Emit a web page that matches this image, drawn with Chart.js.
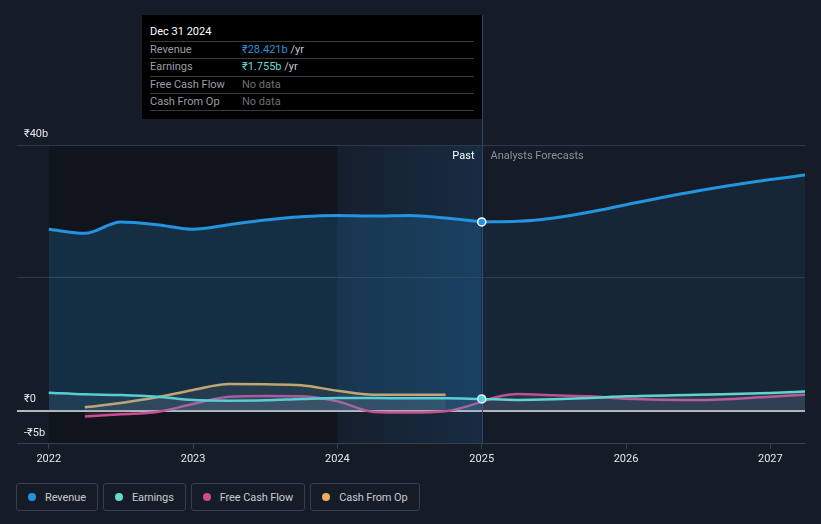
<!DOCTYPE html>
<html>
<head>
<meta charset="utf-8">
<script src="https://cdn.jsdelivr.net/npm/chart.js@4.4.1/dist/chart.umd.min.js"></script>
<style>
  body { margin: 0; background: #161c27; font-family: Roboto, sans-serif; }
  #wrap { position: relative; width: 821px; height: 524px; overflow: hidden; }
  #box { position: absolute; left: 0; top: 0; width: 821px; height: 470px; }
  #tip { position: absolute; left: 142px; top: 15px; width: 340px; height: 104px; background: #000; box-sizing: border-box; padding: 0 8px; font-size: 11px; }
  #tip .ttl { height: 26px; line-height: 33px; color: #fff; }
  #tip .row { height: 16.3px; line-height: 15.5px; border-top: 1px solid #3a3a3a; color: #9a9ea5; display: flex; }
  #tip .row:last-child { border-bottom: 1px solid #3a3a3a; }
  #tip .k { width: 92px; }
  #tip .nd { color: #6c7077; }
  #legend { position: absolute; left: 16px; top: 483px; display: flex; gap: 5px; }
  #legend div { height: 26px; border: 1px solid #3a404b; border-radius: 3px; padding: 0 11px 0 11px; display: flex; align-items: center; font-size: 11px; letter-spacing: -0.1px; color: #c6cad0; }
  #legend i { width: 8px; height: 8px; border-radius: 50%; margin-right: 9px; display: inline-block; }
</style>
</head>
<body>
<div id="wrap">
  <div id="box"><canvas id="myChart"></canvas></div>
  <div id="tip">
    <div class="ttl">Dec 31 2024</div>
    <div class="row"><span class="k">Revenue</span><span><span style="color:#2394df">₹28.421b</span> <span style="color:#c6cad0">/yr</span></span></div>
    <div class="row"><span class="k">Earnings</span><span><span style="color:#64dccd">₹1.755b</span> <span style="color:#c6cad0">/yr</span></span></div>
    <div class="row"><span class="k">Free Cash Flow</span><span class="nd">No data</span></div>
    <div class="row"><span class="k">Cash From Op</span><span class="nd">No data</span></div>
  </div>
  <div id="legend">
    <div><i style="background:#2394df"></i>Revenue</div>
    <div><i style="background:#64dccd"></i>Earnings</div>
    <div><i style="background:#cc4c8d"></i>Free Cash Flow</div>
    <div><i style="background:#e9ae5c"></i>Cash From Op</div>
  </div>
</div>
<script>
// values in ₹ billions, x in decimal years
const pastYears = [2022, 2022.25, 2022.5, 2022.75, 2023, 2023.25, 2023.5, 2023.75, 2024, 2024.25, 2024.5, 2024.75, 2025];
const forecastYears = [2025, 2025.25, 2025.5, 2025.75, 2026, 2026.5, 2027, 2027.25];

const revenuePast = [27.3, 26.7, 28.4, 28.0, 27.3, 28.0, 28.7, 29.2, 29.4, 29.3, 29.4, 29.0, 28.421];
const revenueForecast = [28.421, 28.5, 29.0, 29.9, 31.0, 33.1, 34.8, 35.5];

const earningsPast = [2.7, 2.45, 2.35, 2.1, 1.6, 1.5, 1.55, 1.75, 1.9, 1.9, 1.85, 1.85, 1.755];
const earningsForecast = [1.755, 1.6, 1.7, 1.9, 2.15, 2.4, 2.65, 2.87];

const fcfYears = [2022.25, 2022.5, 2022.75, 2023, 2023.25, 2023.5, 2023.75, 2024, 2024.25, 2024.5, 2024.75, 2025.25, 2025.5, 2025.75, 2026, 2026.5, 2027, 2027.25];
const fcfValues = [-0.9, -0.55, -0.2, 1.0, 2.1, 2.2, 2.15, 1.4, -0.2, -0.3, -0.1, 2.5, 2.3, 2.15, 1.8, 1.6, 2.1, 2.4];

const cfoYears = [2022.25, 2022.5, 2022.75, 2023, 2023.25, 2023.5, 2023.75, 2024, 2024.25, 2024.5, 2024.75];
const cfoValues = [0.5, 1.15, 2.0, 3.1, 4.0, 3.95, 3.8, 3.0, 2.4, 2.4, 2.4];

const xTickValues = [2022, 2023, 2024, 2025, 2026, 2027];
const yTickValues = [-5, 0, 20, 40];
const yTickLabels = ['-₹5b', '₹0', '', '₹40b'];

const nowYear = 2025;
const highlightStart = 2024;
const pastStart = 2022;

function pts(xs, ys) {
    return xs.map((x, i) => ({ x: x, y: ys[i] }));
}

const bgPlugin = {
    id: 'bg',
    beforeDraw(chart) {
        const { ctx, chartArea, scales } = chart;
        const x0 = scales.x.getPixelForValue(pastStart);
        const x1 = scales.x.getPixelForValue(highlightStart);
        const x2 = scales.x.getPixelForValue(nowYear);
        ctx.save();
        ctx.fillStyle = 'rgba(0,0,0,0.24)';
        ctx.fillRect(x0, chartArea.top, x1 - x0, chartArea.bottom - chartArea.top);
        const g = ctx.createLinearGradient(x1, 0, x2, 0);
        g.addColorStop(0, 'rgba(30,110,180,0.04)');
        g.addColorStop(1, 'rgba(30,110,180,0.20)');
        ctx.fillStyle = g;
        ctx.fillRect(x1, chartArea.top, x2 - x1, chartArea.bottom - chartArea.top);
        ctx.restore();
    },
    beforeDatasetsDraw(chart) {
        const { ctx, chartArea, scales } = chart;
        const x = Math.round(scales.x.getPixelForValue(nowYear)) + 0.5;
        ctx.save();
        ctx.strokeStyle = '#2a4862';
        ctx.lineWidth = 1;
        ctx.beginPath();
        ctx.moveTo(x, 15);
        ctx.lineTo(x, chartArea.bottom);
        ctx.stroke();
        ctx.font = '11px Roboto, sans-serif';
        ctx.textBaseline = 'middle';
        ctx.textAlign = 'right';
        ctx.fillStyle = '#ffffff';
        ctx.fillText('Past', x - 8, chartArea.top + 11);
        ctx.textAlign = 'left';
        ctx.fillStyle = '#8b9099';
        ctx.fillText('Analysts Forecasts', x + 8, chartArea.top + 11);
        ctx.restore();
    }
};

const dot = ctx => (ctx.raw && ctx.raw.x === nowYear ? 4 : 0);

new Chart(document.getElementById('myChart'), {
    type: 'line',
    data: {
        datasets: [
            {
                label: 'Revenue',
                data: pts(pastYears, revenuePast),
                borderColor: '#2394df',
                backgroundColor: 'rgba(35,148,223,0.2)',
                borderWidth: 3,
                fill: 'origin',
                pointRadius: dot,
                pointBackgroundColor: '#2394df',
                pointBorderColor: '#ffffff',
                pointBorderWidth: 1.5,
                cubicInterpolationMode: 'monotone'
            },
            {
                label: 'Revenue forecast',
                data: pts(forecastYears, revenueForecast),
                borderColor: '#2394df',
                backgroundColor: 'rgba(35,148,223,0.09)',
                borderWidth: 3,
                fill: 'origin',
                pointRadius: 0,
                cubicInterpolationMode: 'monotone'
            },
            {
                label: 'Earnings',
                data: pts(pastYears, earningsPast),
                borderColor: '#64dccd',
                backgroundColor: 'rgba(150,170,190,0.12)',
                borderWidth: 2.5,
                fill: 'origin',
                pointRadius: dot,
                pointBackgroundColor: '#64dccd',
                pointBorderColor: '#ffffff',
                pointBorderWidth: 1.5,
                cubicInterpolationMode: 'monotone'
            },
            {
                label: 'Earnings forecast',
                data: pts(forecastYears, earningsForecast),
                borderColor: '#64dccd',
                backgroundColor: 'rgba(150,170,190,0.12)',
                borderWidth: 2.5,
                fill: 'origin',
                pointRadius: 0,
                cubicInterpolationMode: 'monotone'
            },
            {
                label: 'Free Cash Flow',
                data: pts(fcfYears, fcfValues),
                borderColor: '#cc4c8d',
                backgroundColor: 'rgba(200,150,190,0.10)',
                borderWidth: 2.5,
                fill: 'origin',
                pointRadius: 0,
                cubicInterpolationMode: 'monotone'
            },
            {
                label: 'Cash From Op',
                data: pts(cfoYears, cfoValues),
                borderColor: '#eaab55',
                backgroundColor: 'rgba(200,160,120,0.12)',
                borderWidth: 2.5,
                fill: 'origin',
                pointRadius: 0,
                cubicInterpolationMode: 'monotone'
            }
        ]
    },
    options: {
        responsive: true,
        maintainAspectRatio: false,
        animation: false,
        layout: { padding: { left: 17, right: 16, top: 145, bottom: 0 } },
        plugins: { legend: { display: false }, tooltip: { enabled: false } },
        scales: {
            x: {
                type: 'linear',
                min: 2021.78,
                max: 2027.24,
                afterBuildTicks: axis => { axis.ticks = xTickValues.map(v => ({ value: v })); },
                ticks: {
                    color: '#e4e6ea',
                    font: { family: 'Roboto', size: 11 },
                    maxRotation: 0,
                    padding: 4,
                    callback: v => String(v)
                },
                grid: { drawOnChartArea: false, tickLength: 5, color: '#3a404c' },
                border: { color: '#3a404c' }
            },
            y: {
                min: -5,
                max: 40,
                afterFit: axis => { axis.width = 0; },
                afterBuildTicks: axis => { axis.ticks = yTickValues.map(v => ({ value: v })); },
                ticks: {
                    mirror: true,
                    padding: 7,
                    labelOffset: -11,
                    color: '#e4e6ea',
                    font: { family: 'Roboto', size: 11 },
                    callback: (v, i) => yTickLabels[i]
                },
                grid: {
                    drawTicks: false,
                    color: c => (c.tick.value === 0 ? '#b4b8be' : (c.tick.value === -5 ? 'rgba(0,0,0,0)' : '#303748')),
                    lineWidth: c => (c.tick.value === 0 ? 2 : 1)
                },
                border: { display: false }
            }
        }
    },
    plugins: [bgPlugin]
});
</script>
</body>
</html>
